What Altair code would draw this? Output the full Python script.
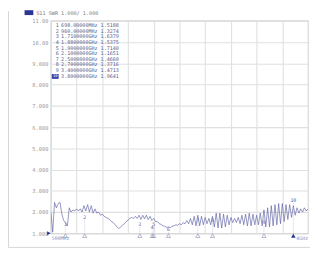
import altair as alt
import pandas as pd

# ---- sweep: 500 MHz .. 4 GHz, S11 SWR trace ----
freq_start_ghz = 0.5
freq_step_ghz = 0.025
swr = [
    2.0, 1.05, 2.45, 2.2, 2.4, 2.45, 1.9, 1.6, 1.5, 1.35,
    2.2, 2.0, 2.1, 2.05, 2.15, 2.05, 2.15, 2.0, 2.3, 2.05,
    2.35, 2.0, 2.3, 1.95, 2.15, 1.95, 2.0, 1.85, 1.9, 1.8,
    1.75, 1.7, 1.65, 1.55, 1.5, 1.4, 1.3, 1.22, 1.3, 1.38,
    1.45, 1.55, 1.62, 1.7, 1.75, 1.7, 1.8, 1.7, 1.85, 1.65,
    1.85, 1.68, 1.85, 1.65, 1.8, 1.6, 1.7, 1.55, 1.55, 1.45,
    1.42, 1.35, 1.33, 1.28, 1.3, 1.27, 1.33, 1.35, 1.4, 1.38,
    1.45, 1.4, 1.5, 1.45, 1.6, 1.45, 1.7, 1.4, 1.8, 1.35,
    1.85, 1.35, 1.8, 1.4, 1.75, 1.45, 1.7, 1.4, 1.8, 1.3,
    1.95, 1.25, 1.95, 1.25, 1.9, 1.3, 1.85, 1.4, 1.75, 1.5,
    1.7, 1.5, 1.75, 1.45, 1.85, 1.4, 1.9, 1.35, 1.95, 1.35,
    1.9, 1.4, 1.85, 1.4, 1.95, 1.35, 2.1, 1.3, 2.2, 1.3,
    2.3, 1.35, 2.35, 1.4, 2.4, 1.45, 2.4, 1.55, 2.35, 1.65,
    2.35, 1.75, 2.3, 1.85, 2.2, 1.95, 2.15, 2.0, 2.2, 2.05,
    2.15,
]
freq = [round(freq_start_ghz + i * freq_step_ghz, 3) for i in range(len(swr))]

# x grid (10 divisions) and y ticks
x_grid = [0.5, 0.85, 1.2, 1.55, 1.9, 2.25, 2.6, 2.95, 3.3, 3.65, 4.0]
y_ticks = [1, 2, 3, 4, 5, 6, 7, 8, 9, 10, 11]

# ---- markers ----
marker_ids = ["1", "2", "3", "4", "5", "6", "7", "8", "9", "10"]
marker_freq = [0.698, 0.96, 1.71, 1.88, 1.9, 2.1, 2.5, 2.7, 3.4, 3.8]
marker_freq_text = ["698.00000MHz", "960.00000MHz", "1.7100000GHz", "1.8800000GHz",
                    "1.9000000GHz", "2.1000000GHz", "2.5000000GHz", "2.7000000GHz",
                    "3.4000000GHz", "3.8000000GHz"]
marker_swr_text = ["1.5188", "1.3274", "1.6379", "1.5375", "1.7140",
                   "1.1651", "1.4660", "1.3716", "1.4713", "1.9641"]
marker_label_swr = [1.28, 1.64, 1.28, 1.14, 1.28, 1.05, 1.5, 1.5, 1.37, 2.42]

header_text = "S11 SWR 1.000/ 1.000"
start_label = "500MHz"
stop_label = "4GHz"

TRACE = "#5a5ea2"
BLUE = "#2b3592"
MONO = "DejaVu Sans Mono"
GRID = "#e0e0e0"

W, H = 264, 218

trace_df = pd.DataFrame({"f": freq, "swr": swr})
mk_df = pd.DataFrame({"id": marker_ids, "f": marker_freq, "lab": marker_label_swr,
                      "base": [1.0] * len(marker_ids)})
one = pd.DataFrame({"k": [0]})

xscale = alt.Scale(domain=[0.5, 4.0], nice=False, zero=False)
yscale = alt.Scale(domain=[1, 11], nice=False, zero=False)

trace = alt.Chart(trace_df).mark_line(color=TRACE, strokeWidth=0.65, clip=True).encode(
    x=alt.X("f:Q", scale=xscale,
            axis=alt.Axis(values=x_grid, tickCount=len(x_grid), labels=False,
                          ticks=False, domain=False,
                          grid=True, gridColor=GRID, gridWidth=1.1, title=None)),
    y=alt.Y("swr:Q", scale=yscale,
            axis=alt.Axis(values=y_ticks, tickCount=len(y_ticks), ticks=False,
                          domain=False, grid=True,
                          gridColor=GRID, gridWidth=1.1, title=None,
                          labelOverlap=False, labelFlush=False,
                          labelFont=MONO, labelFontSize=5.5, labelColor="#9a9a9a",
                          labelPadding=3,
                          labelExpr="datum.value >= 10 ? format(datum.value, '.2f') : format(datum.value, '.3f')")),
)

stems = alt.Chart(mk_df).mark_rule(color="#9ea2c4", strokeWidth=0.5, strokeDash=[1, 1]).encode(
    x=alt.X("f:Q", scale=xscale), y=alt.Y("lab:Q", scale=yscale), y2="base:Q")

mk_labels = alt.Chart(mk_df).mark_text(font=MONO, fontSize=5, color=TRACE, dy=-3).encode(
    x=alt.X("f:Q", scale=xscale), y=alt.Y("lab:Q", scale=yscale), text="id:N")

mk_tri = alt.Chart(mk_df[mk_df["id"] != "10"]).mark_point(
    shape="triangle-up", size=18, filled=False, color="#7c80ab", strokeWidth=0.8).encode(
    x=alt.X("f:Q", scale=xscale), y=alt.value(H + 2.5))

active_tri = alt.Chart(mk_df[mk_df["id"] == "10"]).mark_point(
    shape="triangle-up", size=22, filled=True, color=BLUE, opacity=1).encode(
    x=alt.X("f:Q", scale=xscale), y=alt.value(H + 2.5))

ref_tri = alt.Chart(one).mark_point(shape="triangle-right", size=18, filled=True,
                                    color=BLUE, opacity=1).encode(
    x=alt.value(-2), y=alt.Y("v:Q", scale=yscale)).transform_calculate(v="1")

start_txt = alt.Chart(one).mark_text(font=MONO, fontSize=5, color="#8a8fbd",
                                     align="left", baseline="middle").encode(
    x=alt.value(1), y=alt.value(H + 5), text=alt.value(start_label))
stop_txt = alt.Chart(one).mark_text(font=MONO, fontSize=5, color="#8a8fbd",
                                    align="right", baseline="middle").encode(
    x=alt.value(W), y=alt.value(H + 5), text=alt.value(stop_label))

# header
hdr_box = alt.Chart(one).mark_rect(color=BLUE).encode(
    x=alt.value(-27), x2=alt.value(-18), y=alt.value(-11), y2=alt.value(-6))
hdr_txt = alt.Chart(one).mark_text(font=MONO, fontSize=5.3, color="#7a7a7a",
                                   align="left", baseline="middle").encode(
    x=alt.value(-15), y=alt.value(-8.5), text=alt.value(header_text))

# marker table: number column + frequency/value column
num_lines = "\n".join(marker_ids[:9])
body_lines = "\n".join(f"{marker_freq_text[i]} {marker_swr_text[i]}"
                       for i in range(len(marker_ids)))
table_num = alt.Chart(one).mark_text(font=MONO, fontSize=5.2, color="#5a5e8e",
                                     align="left", baseline="top",
                                     lineBreak="\n", lineHeight=5.75).encode(
    x=alt.value(5), y=alt.value(2.5), text=alt.value(num_lines))
table_body = alt.Chart(one).mark_text(font=MONO, fontSize=5.2, color="#5a5e8e",
                                      align="left", baseline="top",
                                      lineBreak="\n", lineHeight=5.75).encode(
    x=alt.value(10.5), y=alt.value(2.5), text=alt.value(body_lines))
row_box = alt.Chart(one).mark_rect(color="#3944a8").encode(
    x=alt.value(1), x2=alt.value(8), y=alt.value(54.5), y2=alt.value(59.5))
row_box_txt = alt.Chart(one).mark_text(font=MONO, fontSize=4, color="white",
                                       align="center", baseline="middle").encode(
    x=alt.value(4.5), y=alt.value(57), text=alt.value(marker_ids[9]))

# outer frame lines
frame_left = alt.Chart(one).mark_rule(color="#d6d6d6", strokeWidth=1).encode(
    x=alt.value(-43.5), y=alt.value(-10), y2=alt.value(232))
frame_bottom = alt.Chart(one).mark_rule(color="#d6d6d6", strokeWidth=1).encode(
    x=alt.value(-44), x2=alt.value(W + 2), y=alt.value(232.5))

chart = alt.layer(
    trace, stems, mk_tri, active_tri, mk_labels, ref_tri, start_txt, stop_txt,
    hdr_box, hdr_txt, table_num, table_body, row_box, row_box_txt,
    frame_left, frame_bottom,
).properties(
    width=W, height=H,
    autosize=alt.AutoSizeParams(type="none"),
    padding={"left": 44, "top": 10, "right": 2, "bottom": 18},
    background="white",
).configure_view(stroke="#c4c4c4", strokeWidth=1.2)

chart.save("out.html", embed_options={"renderer": "svg", "actions": False})
